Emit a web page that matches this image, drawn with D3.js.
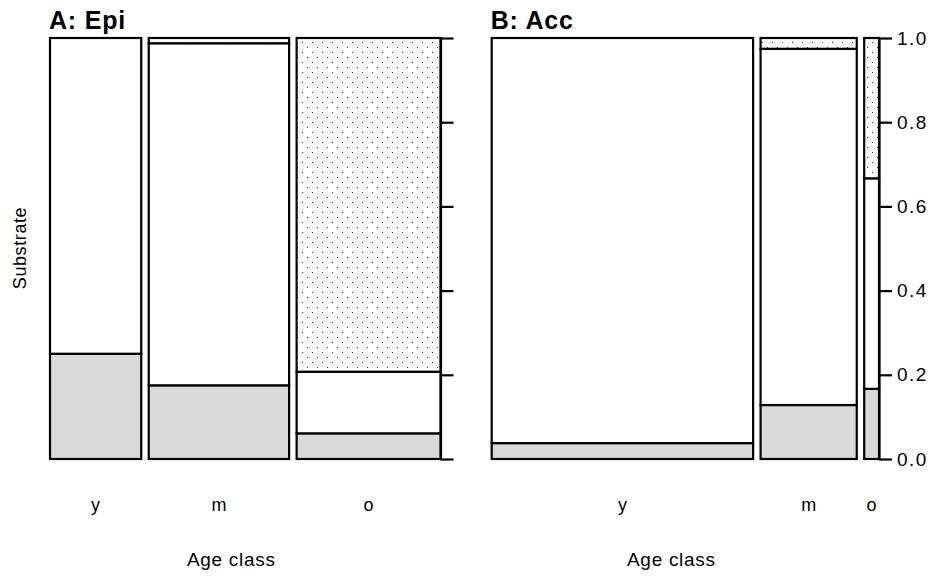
<!DOCTYPE html>
<html>
<head>
<meta charset="utf-8">
<script src="https://cdn.jsdelivr.net/npm/d3@7"></script>
<style>
html,body{margin:0;padding:0;background:#fff;}
svg{display:block;font-family:"Liberation Sans",Arial,Helvetica,sans-serif;}
</style>
</head>
<body>
<svg id="chart" width="933" height="576"></svg>
<script>
// ---- data ----
const categories = ["y", "m", "o"];
const substrateLevels = ["grey", "white", "dotted"];
// Panel A: Epi (counts per age class, per substrate level)
const epiGrey   = [13, 14, 5];
const epiWhite  = [39, 65, 12];
const epiDotted = [0, 1, 65];
// Panel B: Acc
const accGrey   = [4, 5, 1];
const accWhite  = [102, 33, 3];
const accDotted = [0, 1, 2];
const yTicks = [0, 0.2, 0.4, 0.6, 0.8, 1.0];
const panelTitles = ["A: Epi", "B: Acc"];
const xLabel = "Age class";
const yLabel = "Substrate";

const fills = {grey: "#d9d9d9", white: "#ffffff", dotted: "url(#dots)"};

const svg = d3.select("#chart");
const defs = svg.append("defs");
const pat = defs.append("pattern").attr("id", "dots")
  .attr("patternUnits", "userSpaceOnUse").attr("width", 10).attr("height", 10);
pat.append("rect").attr("width", 10).attr("height", 10).attr("fill", "#fff");
pat.append("rect").attr("x", 2).attr("y", 2).attr("width", 1).attr("height", 1).attr("fill", "#333");
pat.append("rect").attr("x", 7).attr("y", 7).attr("width", 1).attr("height", 1).attr("fill", "#333");

const gap = 0.02;
const yScale = d3.scaleLinear().domain([0, 1]).range([459, 38]);

function drawPanel(opts) {
  const {grey, white, dotted, x0, x1, title, showLabels} = opts;
  const n = categories.length;
  const totals = categories.map((c, i) => grey[i] + white[i] + dotted[i]);
  const grand = d3.sum(totals);
  const xScale = d3.scaleLinear().domain([0, 1 + gap * (n - 1)]).range([x0, x1]);
  const g = svg.append("g");
  let cum = 0;
  const centers = [];
  categories.forEach((c, i) => {
    const left = cum / grand + i * gap;
    const right = left + totals[i] / grand;
    cum += totals[i];
    centers.push((xScale(left) + xScale(right)) / 2);
    const vals = [grey[i], white[i], dotted[i]];
    let acc = 0;
    substrateLevels.forEach((lev, j) => {
      const lo = acc / totals[i];
      acc += vals[j];
      const hi = acc / totals[i];
      if (hi - lo <= 0 && j > 0) return;
      g.append("rect")
        .attr("x", xScale(left))
        .attr("y", yScale(hi))
        .attr("width", xScale(right) - xScale(left))
        .attr("height", yScale(lo) - yScale(hi))
        .attr("fill", fills[lev])
        .attr("stroke", "#000")
        .attr("stroke-width", 2.2);
    });
  });
  // right axis
  const axis = d3.axisRight(yScale).tickValues(yTicks).tickSize(13).tickSizeOuter(0).tickPadding(5)
    .tickFormat(showLabels ? d3.format(".1f") : () => "");
  const ag = svg.append("g").attr("transform", `translate(${x1},0)`).call(axis);
  ag.select(".domain").attr("stroke", "#000").attr("stroke-width", 2.2);
  ag.selectAll(".tick line").attr("stroke", "#000").attr("stroke-width", 2.2);
  ag.selectAll(".tick text").attr("fill", "#000").style("font-size", "19px")
    .style("letter-spacing", "1.5px")
    .style("font-family", "'Liberation Sans',Arial,sans-serif");
  // category labels
  categories.forEach((c, i) => {
    svg.append("text").attr("x", centers[i]).attr("y", 511)
      .attr("text-anchor", "middle").style("font-size", "18px").attr("fill", "#000").text(c);
  });
  // x label
  svg.append("text").attr("x", (x0 + x1) / 2 - 14).attr("y", 566)
    .attr("text-anchor", "middle").style("font-size", "19px").style("letter-spacing", "0.7px")
    .attr("fill", "#000").text(xLabel);
  // title
  svg.append("text").attr("x", x0 - 1).attr("y", 29)
    .style("font-size", "25px").style("font-weight", "bold").style("letter-spacing", "0.8px")
    .attr("fill", "#000").text(title);
}

drawPanel({grey: epiGrey, white: epiWhite, dotted: epiDotted, x0: 50, x1: 440.5, title: panelTitles[0], showLabels: false});
drawPanel({grey: accGrey, white: accWhite, dotted: accDotted, x0: 491.7, x1: 879, title: panelTitles[1], showLabels: true});

svg.append("text").attr("transform", "translate(26,248) rotate(-90)")
  .attr("text-anchor", "middle").style("font-size", "18px").style("letter-spacing", "0.6px")
  .attr("fill", "#000").text(yLabel);
</script>
</body>
</html>
